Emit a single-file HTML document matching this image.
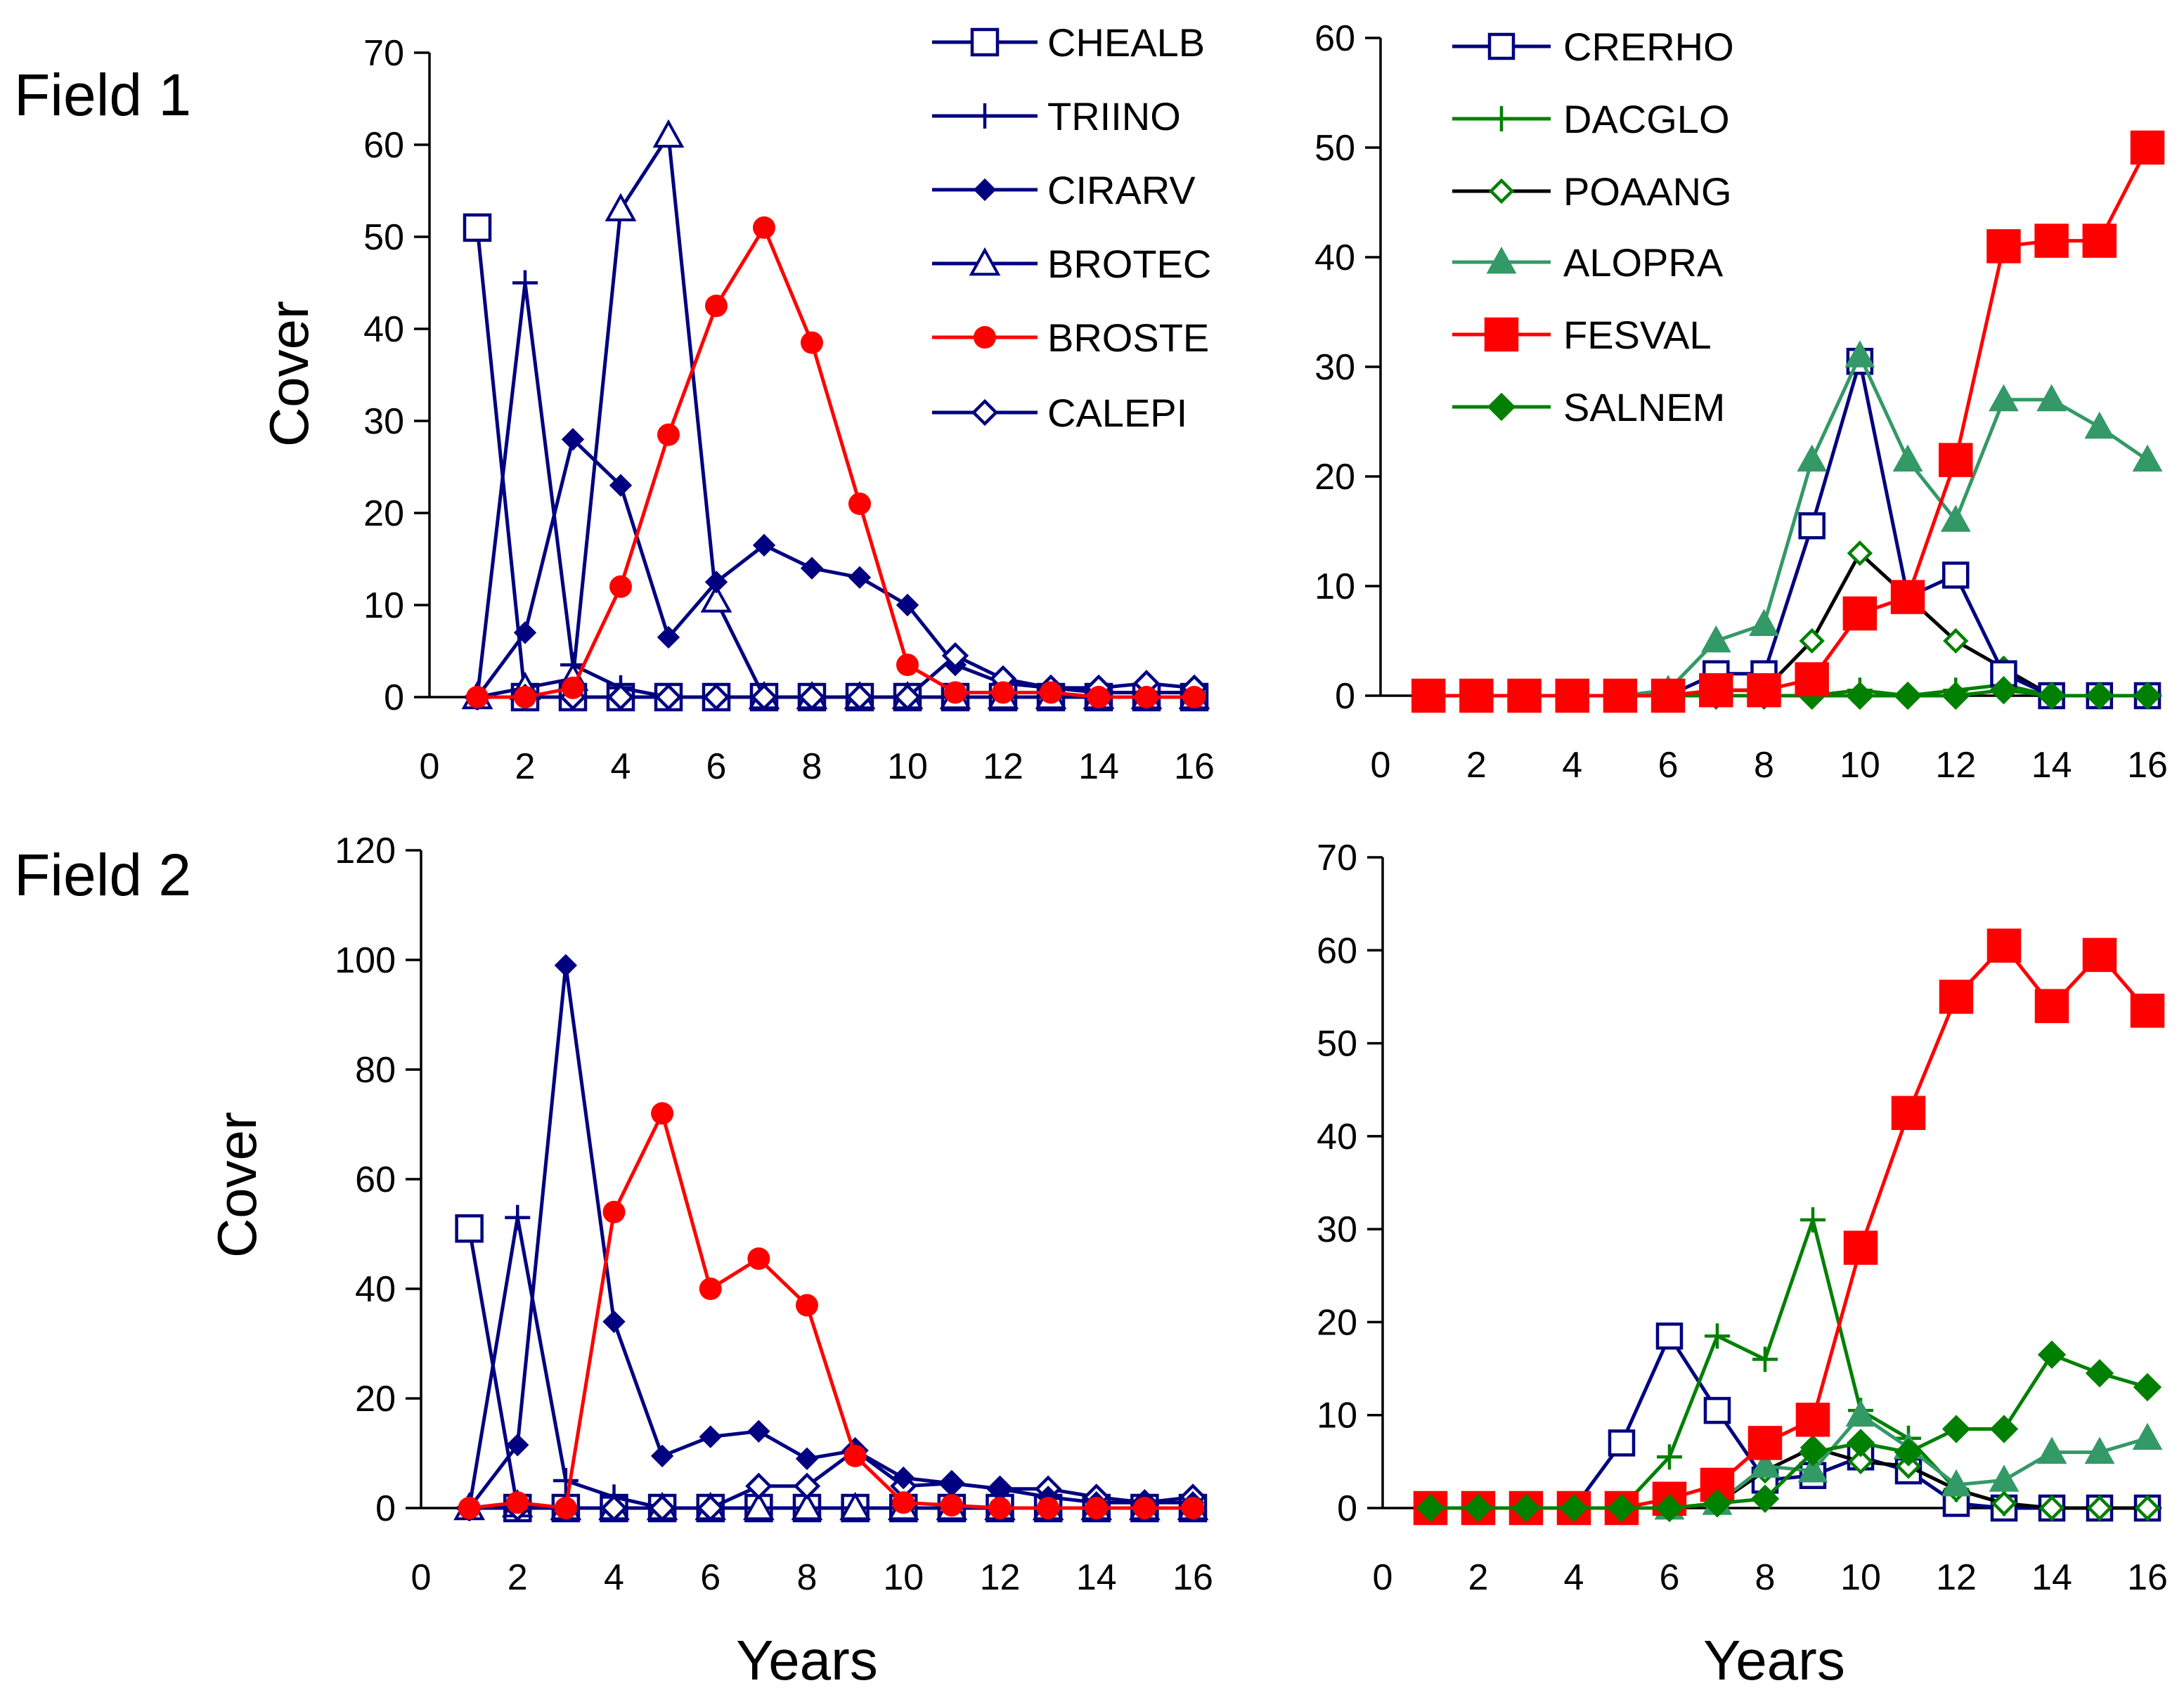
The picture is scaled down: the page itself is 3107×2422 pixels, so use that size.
<!DOCTYPE html>
<html><head><meta charset="utf-8"><style>
html,body{margin:0;padding:0;background:#fff;}
svg{display:block;font-family:"Liberation Sans",Arial,sans-serif;}
</style></head><body>
<svg id="chart" width="3107" height="2422" viewBox="0 0 3107 2422"></svg>
<script>
const years = [1,2,3,4,5,6,7,8,9,10,11,12,13,14,15,16];
const xTicks = [0,2,4,6,8,10,12,14,16];
// Field 1 left
const f1CHEALB = [51,0,0,0,0,0,0,0,0,0,0,0,0,0,0,0];
const f1TRIINO = [0,45,3.5,1,0,0,0,0,0,0,0,0,0,0,0,0];
const f1CIRARV = [0,7,28,23,6.5,12.5,16.5,14,13,10,3.5,1.5,1,0.5,0.5,0.5];
const f1BROTEC = [0,1,2,53,61,10.5,0,0,0,0,0,0,0,0,0,0];
const f1BROSTE = [0,0,1,12,28.5,42.5,51,38.5,21,3.5,0.5,0.5,0.5,0,0,0];
const f1CALEPI = [0,0,0,0,0,0,0,0,0,0,4.5,2,1,1,1.5,1];
// Field 1 right
const f1CRERHO = [0,0,0,0,0,0,2,2,15.5,30.5,9,11,2,0,0,0];
const f1DACGLO = [0,0,0,0,0,0,0,0,0,0.5,0,0.5,1,0,0,0];
const f1POAANG = [0,0,0,0,0,0,0.5,0.5,5,13,9,5,2.5,0,0,0];
const f1ALOPRA = [0,0,0,0,0,0.5,5,6.5,21.5,31,21.5,16,27,27,24.5,21.5];
const f1FESVAL = [0,0,0,0,0,0,0.5,0.5,1.5,7.5,9,21.5,41,41.5,41.5,50];
const f1SALNEM = [0,0,0,0,0,0,0,0,0,0,0,0,0.5,0,0,0];
// Field 2 left
const f2CHEALB = [51,0,0,0,0,0,0,0,0,0,0,0,0,0,0,0];
const f2TRIINO = [0,53,5,2,0,0,0,0,0,0,0,0,0,0,0,0];
const f2CIRARV = [0,11.5,99,34,9.5,13,14,9,10.5,5.5,4.5,3.5,2,1,1,1];
const f2BROTEC = [0,0.5,0,0,0,0,0,0,0,0,0,0,0,0,0,0];
const f2BROSTE = [0,1,0,54,72,40,45.5,37,9.5,1,0.5,0,0,0,0,0];
const f2CALEPI = [0,0,0,0,0,0,4,4,10.5,4,4.5,3.5,3.5,2,1,2];
// Field 2 right
const f2CRERHO = [0,0,0,0,7,18.5,10.5,3,3.5,5.5,4,0.5,0,0,0,0];
const f2DACGLO = [0,0,0,0,0,5.5,18.5,16,31,10.5,7.5,2,0.5,0,0,0];
const f2POAANG = [0,0,0,0,0,0,0.5,4,6.5,5,4.5,2,0.5,0,0,0];
const f2ALOPRA = [0,0,0,0,0,0,0.5,4.5,4,10,6.5,2.5,3,6,6,7.5];
const f2FESVAL = [0,0,0,0,0,1,2.5,7,9.5,28,42.5,55,60.5,54,59.5,53.5];
const f2SALNEM = [0,0,0,0,0,0,0.5,1,6,7,6,8.5,8.5,16.5,14.5,13];
const yTicks1 = [0,10,20,30,40,50,60,70];
const yTicks2 = [0,10,20,30,40,50,60];
const yTicks3 = [0,20,40,60,80,100,120];
const yTicks4 = [0,10,20,30,40,50,60,70];

const NS = "http://www.w3.org/2000/svg";
const svg = document.getElementById('chart');
function mk(tag, attrs, parent){ const e=document.createElementNS(NS,tag); for(const k in attrs) e.setAttribute(k,attrs[k]); (parent||svg).appendChild(e); return e; }

const NAVY="#000080", RED="#ff0000", GREEN="#008000", TEAL="#339966";
const styles = {
 CHEALB:{line:NAVY,m:'sq',fill:'#fff',stroke:NAVY,s:18},
 TRIINO:{line:NAVY,m:'plus',fill:'none',stroke:NAVY,s:18},
 CIRARV:{line:NAVY,m:'dia',fill:NAVY,stroke:NAVY,s:13},
 BROTEC:{line:NAVY,m:'tri',fill:'#fff',stroke:NAVY,s:19},
 BROSTE:{line:RED,m:'circ',fill:RED,stroke:RED,s:16},
 CALEPI:{line:NAVY,m:'dia',fill:'#fff',stroke:NAVY,s:16},
 CRERHO:{line:NAVY,m:'sq',fill:'#fff',stroke:NAVY,s:17},
 DACGLO:{line:GREEN,m:'plus',fill:'none',stroke:GREEN,s:18},
 POAANG:{line:'#000',m:'dia',fill:'#fff',stroke:GREEN,s:15},
 ALOPRA:{line:TEAL,m:'tri',fill:TEAL,stroke:TEAL,s:18},
 FESVAL:{line:RED,m:'sq',fill:RED,stroke:RED,s:22},
 SALNEM:{line:GREEN,m:'dia',fill:GREEN,stroke:GREEN,s:17}
};

function marker(g, st, x, y){
  const s=st.s; let e;
  if(st.m==='sq') e=mk('rect',{x:x-s,y:y-s,width:2*s,height:2*s,fill:st.fill,stroke:st.stroke,'stroke-width':4.5},g);
  else if(st.m==='circ') e=mk('circle',{cx:x,cy:y,r:s,fill:st.fill},g);
  else if(st.m==='dia') e=mk('polygon',{points:`${x},${y-s} ${x+s},${y} ${x},${y+s} ${x-s},${y}`,fill:st.fill,stroke:st.stroke,'stroke-width':4.5},g);
  else if(st.m==='tri') e=mk('polygon',{points:`${x},${y-s} ${x+s},${y+s*0.8} ${x-s},${y+s*0.8}`,fill:st.fill,stroke:st.stroke,'stroke-width':4},g);
  else e=mk('path',{d:`M${x-s} ${y}H${x+s}M${x} ${y-s}V${y+s}`,stroke:st.stroke,'stroke-width':4.5,fill:'none'},g);
  
  
}

function panel(name, x0, x16, y0, yTop, yMax, ticks, series){
  const g = mk('g',{});
  
  
  const X = v => x0 + (x16-x0)*v/16;
  const Y = v => y0 - (y0-yTop)*v/yMax;
  const ax = mk('path',{d:`M${x0} ${Y(ticks[ticks.length-1])}V${y0}M${x0} ${y0}H${X(16)+20}`,stroke:'#000','stroke-width':3.5,fill:'none'},g);
  
  
  ticks.forEach(t=>{
    mk('line',{x1:x0-22,x2:x0,y1:Y(t),y2:Y(t),stroke:'#000','stroke-width':3.5},g);
    const tx=mk('text',{x:x0-36,y:Y(t)+18,'font-size':52,'text-anchor':'end',fill:'#000'},g);
    tx.textContent=t;
    
    
  });
  xTicks.forEach(t=>{
    const tx=mk('text',{x:X(t),y:y0+116,'font-size':52,'text-anchor':'middle',fill:'#000'},g);
    tx.textContent=t;
    
    
  });
  series.forEach(([key,vals])=>{
    const st=styles[key];
    const sg=mk('g',{},g);
    
    
    const pl=mk('polyline',{points:vals.map((v,i)=>X(years[i])+','+Y(v)).join(' '),fill:'none',stroke:st.line,'stroke-width':5},sg);
    
    
    vals.forEach((v,i)=>marker(sg,st,X(years[i]),Y(v)));
  });
}

panel('field1-left-chart',611,1699,992,75,70,yTicks1,[['CHEALB',f1CHEALB],['TRIINO',f1TRIINO],['BROTEC',f1BROTEC],['CIRARV',f1CIRARV],['CALEPI',f1CALEPI],['BROSTE',f1BROSTE]]);
panel('field1-right-chart',1964,3055,990,54,60,yTicks2,[['DACGLO',f1DACGLO],['POAANG',f1POAANG],['CRERHO',f1CRERHO],['ALOPRA',f1ALOPRA],['SALNEM',f1SALNEM],['FESVAL',f1FESVAL]]);
panel('field2-left-chart',599,1697,2146,1210,120,yTicks3,[['CHEALB',f2CHEALB],['TRIINO',f2TRIINO],['BROTEC',f2BROTEC],['CALEPI',f2CALEPI],['CIRARV',f2CIRARV],['BROSTE',f2BROSTE]]);
panel('field2-right-chart',1967,3055,2146,1220,70,yTicks4,[['CRERHO',f2CRERHO],['DACGLO',f2DACGLO],['POAANG',f2POAANG],['ALOPRA',f2ALOPRA],['FESVAL',f2FESVAL],['SALNEM',f2SALNEM]]);

function legend(name, x1, x2, tx, ys, keys){
  const g=mk('g',{});
  
  
  keys.forEach((k,i)=>{
    const st=styles[k];
    const eg=mk('g',{},g);
    
    
    mk('line',{x1:x1,x2:x2,y1:ys[i],y2:ys[i],stroke:st.line,'stroke-width':5},eg);
    marker(eg,st,(x1+x2)/2,ys[i]);
    const t=mk('text',{x:tx,y:ys[i]+20,'font-size':56,fill:'#000'},eg);
    t.textContent=k;
  });
}
legend('legend-left',1326,1476,1490,[60,165,270,375,480,587],['CHEALB','TRIINO','CIRARV','BROTEC','BROSTE','CALEPI']);
legend('legend-right',2066,2206,2224,[66,169,272,373,476,579],['CRERHO','DACGLO','POAANG','ALOPRA','FESVAL','SALNEM']);

function label(txt,x,y,size,name,rot){
  const t=mk('text',{x:x,y:y,'font-size':size,'text-anchor':rot===undefined?'start':'middle',fill:'#000'});
  if(rot!==undefined) t.setAttribute('transform',`rotate(${rot} ${x} ${y})`);
  t.textContent=txt;
  
  
}
label('Field 1',20,164,84,'field1-title');
label('Field 2',20,1274,84,'field2-title');
label('Cover',438,532,78,'y-axis-title-top',-90);
label('Cover',364,1686,78,'y-axis-title-bottom',-90);
label('Years',1148,2390,80,'x-axis-title-left',0);
label('Years',2524,2390,80,'x-axis-title-right',0);
</script>
</body></html>
